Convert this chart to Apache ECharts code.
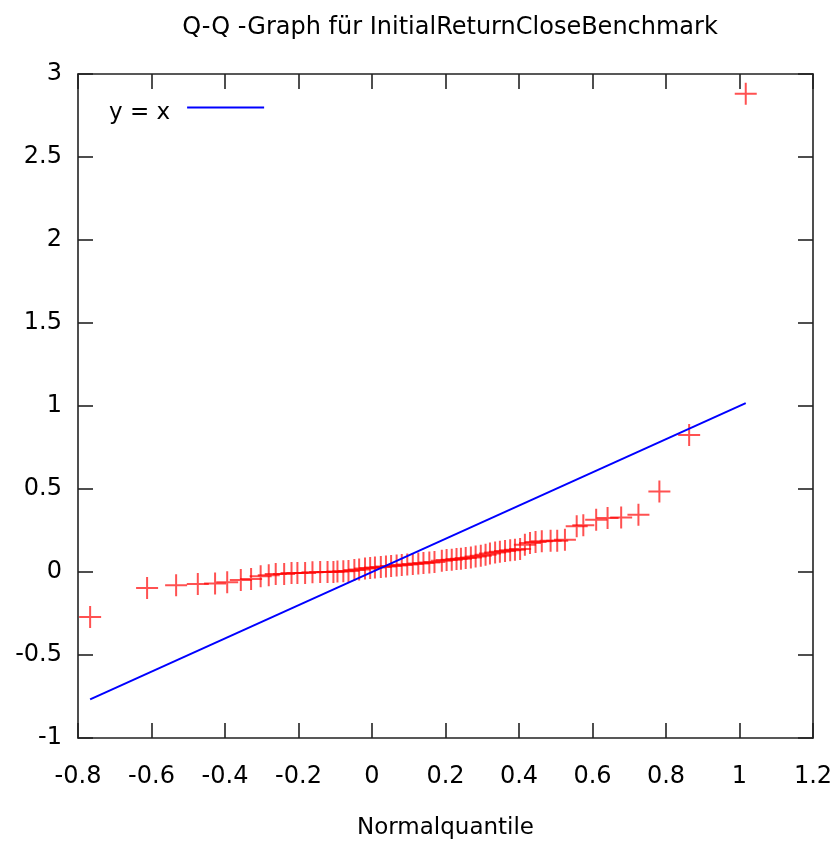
<!DOCTYPE html>
<html lang="de">
  <head>
    <meta charset="UTF-8" />
    <title>Q-Q -Graph</title>
    <script src="https://cdn.jsdelivr.net/npm/echarts@6/dist/echarts.min.js"></script>
    <style>
      html, body { margin: 0; padding: 0; background: #fff; }
      #main { width: 840px; height: 845px; }
    </style>
  </head>
  <body>
    <div id="main"></div>
    <script>
      // Normalquantile (x) und Stichprobenwerte (y)
      const quantiles = [
        -0.767, -0.612, -0.533, -0.474, -0.427, -0.394, -0.357, -0.329, -0.303, -0.281,
        -0.262, -0.239, -0.219, -0.203, -0.182, -0.162, -0.141, -0.121, -0.105, -0.094,
        -0.078, -0.064, -0.048, -0.035, -0.019, -0.005, 0.008, 0.024, 0.038, 0.052,
        0.067, 0.081, 0.096, 0.111, 0.126, 0.140, 0.156, 0.170, 0.190, 0.203,
        0.217, 0.230, 0.242, 0.255, 0.269, 0.282, 0.296, 0.309, 0.321, 0.335,
        0.348, 0.362, 0.376, 0.389, 0.403, 0.416, 0.430, 0.445, 0.462, 0.486,
        0.504, 0.525, 0.557, 0.575, 0.610, 0.641, 0.678, 0.725, 0.782, 0.863,
        1.017
      ]
      const samples = [
        -0.271, -0.096, -0.080, -0.072, -0.070, -0.062, -0.048, -0.042, -0.026, -0.020,
        -0.012, -0.012, -0.006, -0.006, -0.006, -0.002, 0.000, 0.000, 0.000, 0.003,
        0.004, 0.006, 0.012, 0.015, 0.021, 0.024, 0.027, 0.030, 0.033, 0.036,
        0.039, 0.042, 0.045, 0.048, 0.051, 0.054, 0.057, 0.060, 0.068, 0.072,
        0.074, 0.078, 0.080, 0.084, 0.088, 0.094, 0.098, 0.104, 0.112, 0.118,
        0.122, 0.126, 0.131, 0.134, 0.138, 0.164, 0.174, 0.180, 0.185, 0.188,
        0.188, 0.194, 0.275, 0.281, 0.315, 0.325, 0.329, 0.345, 0.485, 0.825,
        2.881
      ]
      // Referenzgerade y = x
      const refLine = [[-0.767, -0.767], [1.017, 1.017]]

      const xMin = -0.8, xMax = 1.2, xStep = 0.2
      const yMin = -1, yMax = 3, yStep = 0.5

      const font = "DejaVu Sans"
      const tick = { show: true, inside: true, length: 15, lineStyle: { color: "#222", width: 1.6 } }
      const line = { show: true, onZero: false, lineStyle: { color: "#222", width: 1.6 } }

      const points = quantiles.map((q, i) => [q, samples[i]])

      const chart = echarts.init(document.getElementById("main"))
      chart.setOption({
        animation: false,
        title: {
          text: "Q-Q -Graph für InitialReturnCloseBenchmark",
          left: 445,
          textAlign: "center",
          top: 11,
          textStyle: { fontFamily: font, fontSize: 24, fontWeight: "normal", color: "#000" }
        },
        legend: {
          left: 104,
          top: 97,
          align: "right",
          itemWidth: 77,
          itemHeight: 16,
          data: [{ name: "y = x", icon: "path://M0,0H77V2H0ZM0,14H0.01V14.01H0Z" }],
          textStyle: { fontFamily: font, fontSize: 23, color: "#000", padding: [0, 12, 0, 0] }
        },
        grid: { left: 78, right: 27, top: 74, bottom: 106 },
        xAxis: [
          {
            type: "value", min: xMin, max: xMax, interval: xStep,
            name: "Normalquantile", nameLocation: "middle", nameGap: 79,
            nameTextStyle: { fontFamily: font, fontSize: 23, color: "#000" },
            axisLine: line, axisTick: tick, splitLine: { show: false },
            axisLabel: { fontFamily: font, fontSize: 24, color: "#000", margin: 27 }
          },
          {
            type: "value", position: "top", min: xMin, max: xMax, interval: xStep,
            axisLine: line, axisTick: tick, splitLine: { show: false }, axisLabel: { show: false }
          }
        ],
        yAxis: [
          {
            type: "value", min: yMin, max: yMax, interval: yStep,
            axisLine: line, axisTick: tick, splitLine: { show: false },
            axisLabel: { fontFamily: font, fontSize: 24, color: "#000", margin: 16 }
          },
          {
            type: "value", position: "right", min: yMin, max: yMax, interval: yStep,
            axisLine: line, axisTick: tick, splitLine: { show: false }, axisLabel: { show: false }
          }
        ],
        series: [
          {
            name: "Daten",
            type: "scatter",
            data: points,
            symbol: "path://M0,11H22M11,0V22",
            symbolSize: 22,
            itemStyle: { color: "transparent", borderColor: "rgba(255,0,0,0.85)", borderWidth: 2 }
          },
          {
            name: "y = x",
            type: "line",
            data: refLine,
            symbol: "none",
            lineStyle: { color: "#0000ff", width: 2 },
            itemStyle: { color: "#0000ff" }
          }
        ]
      })
    </script>
  </body>
</html>
